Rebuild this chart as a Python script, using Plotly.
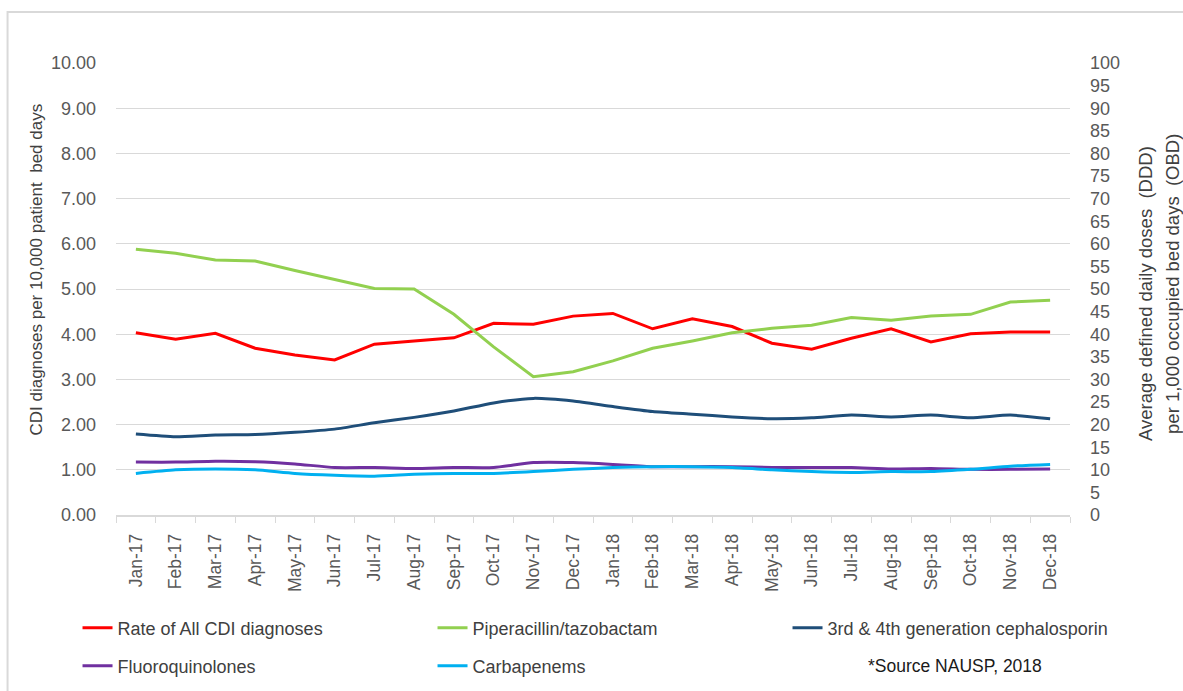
import plotly.graph_objects as go

months = ["Jan-17", "Feb-17", "Mar-17", "Apr-17", "May-17", "Jun-17", "Jul-17", "Aug-17",
          "Sep-17", "Oct-17", "Nov-17", "Dec-17", "Jan-18", "Feb-18", "Mar-18", "Apr-18",
          "May-18", "Jun-18", "Jul-18", "Aug-18", "Sep-18", "Oct-18", "Nov-18", "Dec-18"]

cdi_rate = [4.03, 3.89, 4.02, 3.69, 3.54, 3.43, 3.78, 3.85, 3.92, 4.24, 4.22, 4.40,
            4.46, 4.12, 4.34, 4.17, 3.80, 3.67, 3.91, 4.12, 3.83, 4.01, 4.05, 4.05]

pip_taz = [58.8, 57.9, 56.4, 56.2, 54.1, 52.1, 50.1, 50.0, 44.4, 37.2, 30.6, 31.7,
           34.1, 36.9, 38.5, 40.3, 41.3, 42.0, 43.7, 43.1, 44.0, 44.4, 47.1, 47.5]

ceph_34 = [17.9, 17.3, 17.7, 17.8, 18.3, 19.0, 20.4, 21.6, 23.0, 24.8, 25.8, 25.2,
           24.0, 22.9, 22.3, 21.7, 21.3, 21.5, 22.1, 21.7, 22.1, 21.5, 22.1, 21.3]

fluoroq = [11.7, 11.7, 11.9, 11.8, 11.3, 10.5, 10.5, 10.3, 10.5, 10.5, 11.6, 11.6,
           11.2, 10.7, 10.7, 10.7, 10.5, 10.5, 10.5, 10.2, 10.3, 10.1, 10.1, 10.2]

carbap = [9.2, 10.0, 10.2, 10.0, 9.2, 8.8, 8.6, 9.0, 9.2, 9.2, 9.6, 10.1,
          10.5, 10.7, 10.7, 10.5, 10.0, 9.6, 9.4, 9.6, 9.6, 10.1, 10.8, 11.2]

left_ticks = [0, 1, 2, 3, 4, 5, 6, 7, 8, 9, 10]
right_ticks = list(range(0, 101, 5))

W, H = 1183, 691
L, R, T, B = 115.5, 113, 63, 176
PW = W - L - R
PH = H - T - B


def px(x):
    return (x - L) / PW


def py(y):
    return (H - B - y) / PH


FONT = "Liberation Sans"
fig = go.Figure()

fig.add_trace(go.Scatter(x=months, y=cdi_rate, name="Rate of All CDI diagnoses", mode="lines",
                         line=dict(color="#FF0000", width=3), yaxis="y", legend="legend"))
fig.add_trace(go.Scatter(x=months, y=pip_taz, name="Piperacillin/tazobactam", mode="lines",
                         line=dict(color="#92D050", width=3), yaxis="y2", legend="legend"))
fig.add_trace(go.Scatter(x=months, y=ceph_34, name="3rd & 4th generation cephalosporin", mode="lines",
                         line=dict(color="#1F4E79", width=3, shape="spline", smoothing=0.6),
                         yaxis="y2", legend="legend"))
fig.add_trace(go.Scatter(x=months, y=fluoroq, name="Fluoroquinolones", mode="lines",
                         line=dict(color="#7030A0", width=3, shape="spline", smoothing=0.6),
                         yaxis="y2", legend="legend2"))
fig.add_trace(go.Scatter(x=months, y=carbap, name="Carbapenems", mode="lines",
                         line=dict(color="#00B0F0", width=3, shape="spline", smoothing=0.6),
                         yaxis="y2", legend="legend2"))

legend_common = dict(orientation="h", xanchor="left", yanchor="middle",
                     entrywidth=310, entrywidthmode="pixels",
                     font=dict(family=FONT, size=18, color="#404040"),
                     bgcolor="rgba(0,0,0,0)", borderwidth=0, itemwidth=30)

fig.update_layout(
    width=W, height=H,
    margin=dict(l=L, r=R, t=T, b=B, autoexpand=False),
    paper_bgcolor="white", plot_bgcolor="white",
    showlegend=True,
    legend=dict(x=px(77), y=py(628), **legend_common),
    legend2=dict(x=px(77), y=py(666), **legend_common),
    xaxis=dict(type="category", range=[-0.5, len(months) - 0.5], tickangle=-90,
               tickson="boundaries", ticks="outside", ticklen=6,
               tickcolor="#d9d9d9", showline=True, linecolor="#d9d9d9", linewidth=1.5,
               showgrid=False, ticklabelstandoff=10,
               tickfont=dict(family=FONT, size=17.5, color="#595959")),
    yaxis=dict(range=[0, 10], tickvals=left_ticks, tickformat=".2f", showgrid=True,
               gridcolor="#d9d9d9", gridwidth=1.2, zeroline=False, showline=False,
               ticks="", ticklabelstandoff=19,
               tickfont=dict(family=FONT, size=18, color="#595959")),
    yaxis2=dict(range=[0, 100], tickvals=right_ticks, overlaying="y", side="right",
                showgrid=False, zeroline=False, showline=False, ticks="",
                ticklabelstandoff=19,
                tickfont=dict(family=FONT, size=18, color="#595959")),
)

# axis titles
fig.add_annotation(text="CDI diagnoses per 10,000 patient\u00a0 bed days", textangle=-90,
                   x=px(35), y=py(270), xref="paper", yref="paper", showarrow=False,
                   xanchor="center", yanchor="middle",
                   font=dict(family=FONT, size=17, color="#404040"))
fig.add_annotation(text="Average defined daily doses\u00a0 (DDD)", textangle=-90,
                   x=px(1145), y=py(293), xref="paper", yref="paper", showarrow=False,
                   xanchor="center", yanchor="middle",
                   font=dict(family=FONT, size=18.5, color="#404040"))
fig.add_annotation(text="per 1,000 occupied bed days\u00a0 (OBD)", textangle=-90,
                   x=px(1172), y=py(284), xref="paper", yref="paper", showarrow=False,
                   xanchor="center", yanchor="middle",
                   font=dict(family=FONT, size=18.5, color="#404040"))
fig.add_annotation(text="*Source NAUSP, 2018", x=px(866), y=py(666), xref="paper", yref="paper",
                   xanchor="left", yanchor="middle", showarrow=False,
                   font=dict(family=FONT, size=17.5, color="#1a1a1a"))

# outer chart frame
fig.add_shape(type="rect", xref="paper", yref="paper",
              x0=px(7), x1=px(1200), y0=py(12), y1=py(720),
              line=dict(color="#d9d9d9", width=2), fillcolor="rgba(0,0,0,0)", layer="below")

fig.write_html("out.html")
